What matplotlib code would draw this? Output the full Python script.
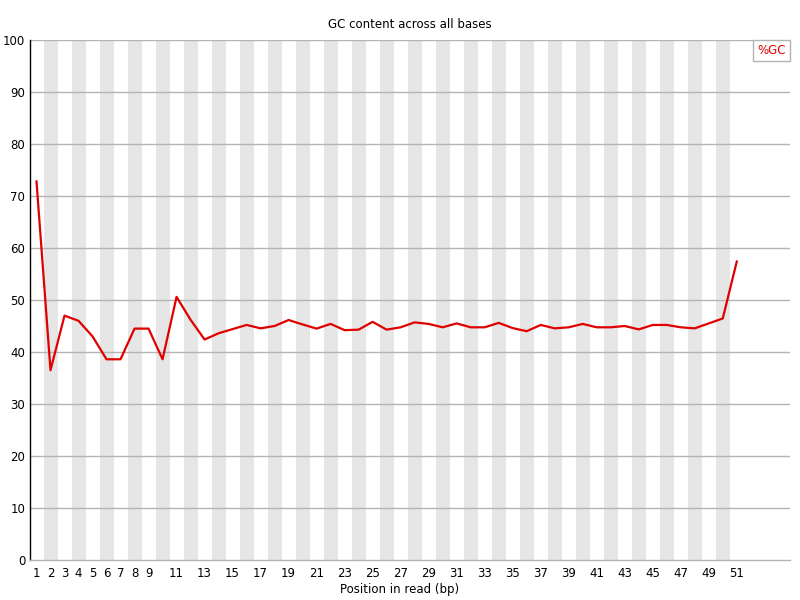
import numpy as np
import matplotlib
matplotlib.use('Agg')
from matplotlib import pyplot as plt

positions = list(range(1, 52))
gc_percent = [72.8, 36.5, 47.0, 46.0, 43.0, 38.6, 38.6, 44.5, 44.5, 38.6,
              50.6, 46.2, 42.4, 43.6, 44.4, 45.2, 44.55, 45.0, 46.15, 45.3,
              44.5, 45.4, 44.2, 44.3, 45.8, 44.3, 44.75, 45.7, 45.4, 44.75,
              45.5, 44.75, 44.75, 45.6, 44.6, 44.0, 45.2, 44.55, 44.75, 45.4,
              44.75, 44.75, 45.0, 44.35, 45.2, 45.2, 44.75, 44.55, 45.5, 46.45,
              57.4]
x_tick_labels = [1, 2, 3, 4, 5, 6, 7, 8, 9] + list(range(11, 52, 2))
y_ticks = list(range(0, 101, 10))

plt.rcParams['font.family'] = 'DejaVu Sans'

fig = plt.figure(figsize=(8, 6), dpi=100)
ax = fig.add_axes([30 / 800, 40 / 600, 760 / 800, 520 / 600])

# alternating background bands
for p in positions:
    if p % 2 == 0:
        ax.axvspan(p - 0.5, p + 0.5, color='#e6e6e6', lw=0, zorder=0)

for y in y_ticks[1:]:
    ax.axhline(y, color='#b4b4b4', lw=1, zorder=1)

ax.plot(positions, gc_percent, color='#e00000', lw=1.6, zorder=3, label='%GC')

ax.set_xlim(0.536, 54.8)
ax.set_ylim(0, 100)
ax.set_xticks(x_tick_labels)
ax.set_xticklabels([str(v) for v in x_tick_labels])
ax.set_yticks(y_ticks)
ax.tick_params(axis='both', length=0, labelsize=8.5, colors='black')
ax.tick_params(axis='x', pad=5)
ax.tick_params(axis='y', pad=3.5)

for side in ['top', 'right']:
    ax.spines[side].set_visible(False)
ax.spines['left'].set_color('black')
ax.spines['left'].set_linewidth(1)
ax.spines['bottom'].set_color('#b4b4b4')
ax.spines['bottom'].set_linewidth(1)

leg = ax.legend(loc='upper right', handlelength=0, handletextpad=0,
                borderaxespad=0, fancybox=False, framealpha=1,
                edgecolor='#b4b4b4', fontsize=8.5, borderpad=0.35)
for h in leg.legend_handles:
    h.set_visible(False)
for t in leg.get_texts():
    t.set_color('#e00000')

fig.text(410 / 800, 1 - 25 / 600, 'GC content across all bases',
         ha='center', va='center', fontsize=8.5)
fig.text(400 / 800, 1 - 590 / 600, 'Position in read (bp)',
         ha='center', va='center', fontsize=8.5)

fig.savefig('out.png', dpi=100)
